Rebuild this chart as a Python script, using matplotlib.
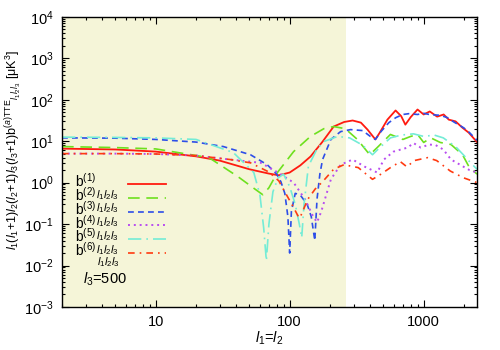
#!/usr/bin/env python3
import matplotlib
matplotlib.use('Agg')
import matplotlib.pyplot as plt
from matplotlib.ticker import LogLocator, LogFormatterMathtext, NullFormatter

plt.rcParams['font.family'] = ['Liberation Sans', 'DejaVu Sans']
plt.rcParams['mathtext.fontset'] = 'custom'
plt.rcParams['mathtext.rm'] = 'Liberation Sans'
plt.rcParams['mathtext.it'] = 'Liberation Sans:italic'
plt.rcParams['mathtext.bf'] = 'Liberation Sans:bold'

# values, l1 = l2, l3 = 500
l_b1 = [2, 5, 10, 20, 30, 50, 70, 83, 100, 120, 143, 175, 213, 255, 295, 340, 381,
        436, 470, 536, 617, 680, 730, 800, 900, 1000, 1110, 1260, 1410, 1540, 1730,
        1950, 2170, 2500]
b1 = [6.6, 6.3, 5.6, 4.3, 3.4, 2.1, 1.65, 1.5, 1.75, 2.6, 4.25, 9.5, 22.5, 29, 31.5,
      28, 19, 11, 16, 33, 55, 40, 25, 38, 58, 44, 52, 39, 44, 33, 30, 21, 16, 9.5]

l_b2 = [2, 5, 10, 25, 41, 55, 63, 70, 81, 107, 143, 180, 213, 260, 320, 396, 450,
        565, 700, 800, 900, 1000, 1130, 1330, 1600, 1950, 2180, 2500]
b2 = [7.4, 7.0, 6.5, 4.0, 1.4, 0.7, 0.51, 0.75, 1.75, 5.6, 13, 20, 22.5, 20, 11,
      4.7, 7, 14.5, 11, 13, 14.5, 9.3, 12, 9.3, 8.3, 4.7, 2.4, 1.6]

l_b3 = [2, 5, 10, 20, 32, 51, 68, 80, 86, 92, 97, 100, 103, 110, 120, 135, 145, 154,
        160, 168, 176, 203, 240, 285, 350, 400, 436, 480, 550, 620, 700, 775, 900,
        1000, 1100, 1330, 1500, 1680, 1990, 2200, 2500]
b3 = [12, 11.8, 11, 9.5, 7.4, 4.7, 2.7, 1.6, 1.05, 0.55, 0.15, 0.02, 0.2, 0.55,
      0.5, 0.3, 0.15, 0.04, 0.4, 1.6, 3.6, 11, 17, 19, 18, 13, 11, 17, 28, 37, 44,
      46, 44, 47, 44, 42, 37, 29, 21, 16, 10.5]

l_b4 = [2, 5, 10, 20, 36, 61, 83, 107, 130, 150, 160, 172, 203, 240, 295, 365, 450,
        505, 596, 760, 840, 950, 1100, 1230, 1400, 1600, 1990, 2200, 2500]
b4 = [5.0, 5.0, 4.9, 4.5, 3.6, 3.0, 1.7, 1.0, 0.4, 0.15, 0.11, 0.2, 1.2, 2.7, 3.6,
      2.4, 1.75, 3.6, 5.6, 7.0, 9.0, 7.0, 8.3, 8.0, 6.3, 3.6, 2.4, 2.0, 1.75]

l_b5 = [2, 5, 10, 20, 38, 54, 60, 64, 67, 70, 75, 82, 90, 100, 110, 118, 123, 128,
        138, 160, 180, 228, 280, 350, 415, 470, 565, 680, 840, 1000, 1200, 1400,
        1730, 2000, 2200, 2500]
b5 = [12.5, 12.3, 12, 11, 5.3, 1.75, 0.5, 0.08, 0.013, 0.1, 0.6, 1.3, 1.6, 0.8,
      0.3, 0.1, 0.047, 0.3, 2.5, 6.5, 9.8, 13, 12, 8, 4.7, 7, 12, 14, 15, 13, 14,
      12, 7.4, 4.5, 3.2, 2.1]

l_b6 = [2, 5, 10, 20, 36, 51, 70, 83, 90, 107, 115, 119, 125, 136, 155, 176, 213,
        254, 325, 415, 480, 565, 670, 750, 850, 1070, 1250, 1580, 1990, 2500]
b6 = [5.0, 5.0, 4.9, 4.5, 3.6, 3.0, 1.8, 1.1, 0.68, 0.25, 0.16, 0.14, 0.2, 0.39,
      0.7, 1.05, 2.1, 2.7, 2.3, 1.2, 1.6, 2.3, 3.2, 2.4, 3.4, 4.0, 3.4, 1.9, 1.3, 1.0]

l_low, l_high = 2, 2500
shade_end = 265

series = [
    (l_b1, b1, '#ff1a10', '-', 1.3),
    (l_b2, b2, '#6ee01e', (0, (7, 4)), 1.2),
    (l_b3, b3, '#2d4ee8', (0, (3.5, 2.5)), 1.2),
    (l_b4, b4, '#b84cf0', (0, (1, 2)), 1.4),
    (l_b5, b5, '#74ecd6', (0, (8, 3, 1, 3)), 1.2),
    (l_b6, b6, '#ff3a10', (0, (4, 3, 1, 3)), 1.2),
]
row_labels = [r'$\mathrm{b}^{(%d)}$' % i for i in range(1, 7)]

fig = plt.figure(figsize=(5, 3.5), dpi=100)
ax = fig.add_axes([0.124, 0.123, 0.830, 0.829])
ax.axvspan(l_low, shade_end, color='#f5f5d8', lw=0, zorder=0)

for x, y, c, ls, lw in series:
    ax.plot(x, y, color=c, linestyle=ls, lw=lw, zorder=2)

ax.set_xscale('log')
ax.set_yscale('log')
ax.set_xlim(l_low, l_high)
ax.set_ylim(1e-3, 1e4)

ax.xaxis.set_major_locator(LogLocator(base=10, numticks=10))
ax.xaxis.set_minor_locator(LogLocator(base=10, subs=range(2, 10), numticks=20))
ax.xaxis.set_minor_formatter(NullFormatter())
ax.xaxis.set_major_formatter(plt.FuncFormatter(lambda v, p: '%d' % v))
ax.yaxis.set_major_locator(LogLocator(base=10, numticks=10))
ax.yaxis.set_minor_locator(LogLocator(base=10, subs=range(2, 10), numticks=20))
ax.yaxis.set_minor_formatter(NullFormatter())
ax.yaxis.set_major_formatter(LogFormatterMathtext())
ax.tick_params(which='both', direction='in', top=True, right=True, labelsize=10.5,
               width=0.8)
ax.tick_params(which='major', length=5, pad=6)
ax.tick_params(which='minor', length=2.5)
for s in ax.spines.values():
    s.set_linewidth(1.0)

# pixel position (reference picture) -> axes fraction
def px(xp, yp):
    return ((xp - 62) / 415.0, (307 - yp) / 290.0)

ax.set_xlabel(r'$l_1$=$l_2$', fontsize=10.5, va='center')
ax.xaxis.set_label_coords(*px(269, 338))
ax.set_ylabel(r'$l_1(l_1$+1$)l_2(l_2$+1$)l_3(l_3$+1$)\mathrm{b}^{(a)\mathrm{TTE}}{}_{l_1l_2l_3}$ [$\mathrm{\mu}$K$^3$]',
              fontsize=9, va='center')
ax.yaxis.set_label_coords(*px(14, 150))

# hand-drawn key, like the gnuplot one
tr = ax.transAxes
for i, (lbl, (x, y, c, ls, lw)) in enumerate(zip(row_labels, series)):
    yp = 184 + 13.8 * i
    ax.plot([px(128, yp)[0], px(166, yp)[0]], [px(128, yp)[1]] * 2, transform=tr,
            color=c, linestyle=ls, lw=lw, zorder=3)
    ax.text(*px(75, yp + 3), lbl, transform=tr, fontsize=10, va='baseline',
            ha='left')
    if i > 0:
        ax.text(*px(96, yp - 3), r'$l_1l_2l_3$', transform=tr, fontsize=8,
                va='center', ha='left')
ax.text(*px(97, 262), r'$l_1l_2l_3$', transform=tr, fontsize=8, va='center',
        ha='left')
ax.text(*px(83, 279), r'$l_3$=500', transform=tr, fontsize=10.5, va='center',
        ha='left')

fig.savefig('out.png', dpi=100)
